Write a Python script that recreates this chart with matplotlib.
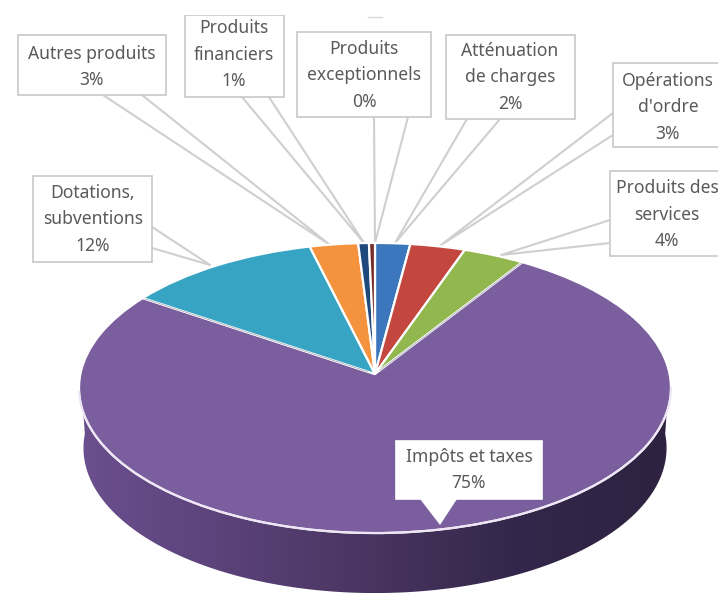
import numpy as np
import matplotlib
matplotlib.use("Agg")
import matplotlib.pyplot as plt
from matplotlib.colors import LinearSegmentedColormap
from matplotlib.patches import Polygon, Rectangle
from matplotlib.transforms import Transform

plt.rcParams['font.family'] = ['Noto Sans', 'DejaVu Sans']

# slices, clockwise from the top
names = ["Atténuation\nde charges", "Opérations\nd'ordre", "Produits des\nservices",
         "Impôts et taxes", "Dotations,\nsubventions", "Autres produits",
         "Produits\nfinanciers", "Produits\nexceptionnels"]
shares = [2.1, 3.3, 3.7, 75.3, 11.7, 2.9, 0.64, 0.36]
percent_labels = ["2%", "3%", "4%", "75%", "12%", "3%", "1%", "0%"]
colors = ["#3c77bd", "#c4473f", "#93b74f", "#7b5e9e", "#38a4c3", "#f5923e", "#1f497d", "#772c2a"]

# label boxes in picture pixels: left, top, right, bottom
boxes = [(446, 35, 575, 119), (613, 63, 730, 147), (610, 171, 730, 256), (396, 441, 542, 499),
         (33, 176, 152, 262), (18, 35, 166, 95), (185, 15, 284, 97), (297, 32, 431, 117)]
# where the text of each box is centred
text_pos = [(510, 77.5), (668, 107.5), (667, 214.5), (469, 470),
            (93, 219.5), (92, 67), (234, 54.5), (364, 75.5)]
# leader: two points on the box, then the tip on the pie
leaders = [((467, 119), (500, 119), (395, 243)),
           ((613, 113), (613, 135), (441, 245)),
           ((610, 220), (610, 243), (501, 255)),
           ((420, 499), (457, 499), (440, 525)),
           ((152, 227), (152, 248), (210, 265)),
           ((103, 95), (142, 95), (330, 245)),
           ((242, 97), (269, 97), (364, 243)),
           ((374, 117), (408, 117), (375, 243))]

apex = (375, 374)
wall_height = 60


class Tilt(Transform):
    # puts the flat unit pie in perspective, in picture pixels
    input_dims = 2
    output_dims = 2
    k = 0.0966
    sx = 294.6
    sy = 143.7

    def transform_non_affine(self, xy):
        xy = np.asarray(xy, dtype=float)
        d = 1 + self.k * xy[:, 1]
        return np.column_stack((apex[0] + self.sx * xy[:, 0] / d, apex[1] - self.sy * xy[:, 1] / d))


fig = plt.figure(figsize=(7.18, 5.93), dpi=100)
ax = fig.add_axes([0, 0, 1, 1])

tilt = Tilt()
wedges, _ = ax.pie(shares, colors=colors, startangle=90, counterclock=False,
                   wedgeprops=dict(edgecolor="white", linewidth=1.6))
for w in wedges:
    w.set_transform(tilt + ax.transData)
    w.set_zorder(3)
ax.set_aspect("auto")

# thin grey seam along both straight sides of the big slice
big = names.index("Impôts et taxes")
for frac in [sum(shares[:big]), sum(shares[:big + 1])]:
    a = np.pi / 2 - 2 * np.pi * frac / sum(shares)
    seam = tilt.transform(np.array([[0.03 * np.cos(a), 0.03 * np.sin(a)], [0.99 * np.cos(a), 0.99 * np.sin(a)]]))
    ax.plot(seam[:, 0], seam[:, 1], color="#aeb0bc", lw=0.6, zorder=3.5)

# side wall, a gradient clipped to the lower rim
t = np.linspace(np.pi * 1.0, np.pi * 2.0, 200)
rim = tilt.transform(np.column_stack((np.cos(t), np.sin(t))))
lower = rim.copy()
lower[:, 0] = apex[0] + 1 + (lower[:, 0] - apex[0] - 1) * 0.985
lower[:, 1] += wall_height
wall = Polygon(np.vstack((rim[0] + [2, 25], lower, rim[-1] + [-2, 25], rim[-1] + [0, -10], rim[0] + [0, -10])),
               closed=True, transform=ax.transData, facecolor="none", edgecolor="none")
ax.add_patch(wall)
shade = LinearSegmentedColormap.from_list("wall", ["#6b4f8e", "#5a4279", "#47345f", "#33264a", "#2e2240"])
im = ax.imshow(np.linspace(0, 1, 256).reshape(1, -1), cmap=shade, extent=(80, 672, 593, 380),
               aspect="auto", zorder=1)
im.set_clip_path(wall)

# pale line along the front of the rim
t = np.linspace(np.pi * 1.04, np.pi * 1.97, 200)
rim_front = tilt.transform(np.column_stack((np.cos(t), np.sin(t))))
ax.plot(rim_front[:, 0], rim_front[:, 1], color="#eee6f4", lw=1.5, zorder=4)

for i, name in enumerate(names):
    l, top, r, b = boxes[i]
    p1, p2, tip = leaders[i]
    filled = name == "Impôts et taxes"
    if filled:
        ax.add_patch(Polygon([p1, tip, p2], closed=True, facecolor="white", edgecolor="none", zorder=5))
    else:
        ax.plot([p1[0], tip[0], p2[0]], [p1[1], tip[1], p2[1]], color="#cfcfcf", lw=1.5, zorder=2)
    ax.add_patch(Rectangle((l, top), r - l, b - top, facecolor="white",
                           edgecolor="white" if filled else "#c8c8c8", lw=1.2, zorder=5))
    ax.text(text_pos[i][0], text_pos[i][1], name + "\n" + percent_labels[i], ha="center", va="center",
            fontsize=12.6, color="#5a5a5a", linespacing=1.6, zorder=6)

# the picture is cropped above the top of this box
ax.add_patch(Rectangle((180, 0), 110, 15, facecolor="white", edgecolor="none", zorder=6.5))
ax.plot([368, 382], [17, 17], color="#d8d8d8", lw=1, zorder=2)

ax.set_xlim(0, 718)
ax.set_ylim(593, 0)
ax.axis("off")
fig.savefig("out.png", dpi=100)
